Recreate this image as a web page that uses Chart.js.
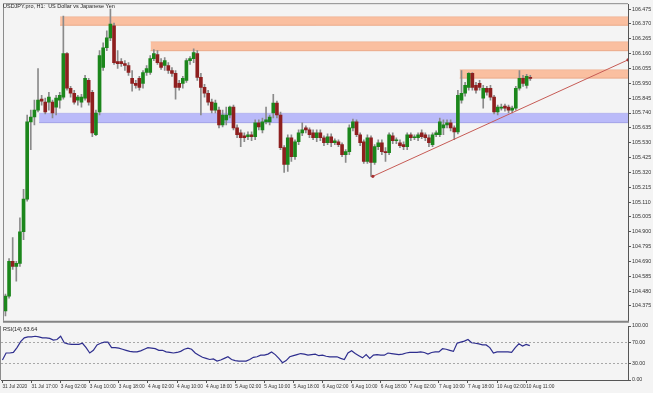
<!DOCTYPE html>
<html>
<head>
<meta charset="utf-8">
<script src="https://cdn.jsdelivr.net/npm/chart.js@4.4.1/dist/chart.umd.min.js"></script>
<style>
  body { margin: 0; background: #f4f4f4; width: 653px; height: 393px; overflow: hidden; position: relative; font-family: "Liberation Sans", Arial, sans-serif; }
  canvas { position: absolute; left: 0; }
  #priceChart { top: 0; }
  #rsiChart { top: 318px; }
  .lbl { position: absolute; font-size: 5.5px; line-height: 6px; color: #222; white-space: pre; }
</style>
</head>
<body>
<canvas id="priceChart" width="653" height="325"></canvas>
<canvas id="rsiChart" width="653" height="75"></canvas>
<div class="lbl" style="left:3px; top:3px;">USDJPY.pro, H1:  US Dollar vs Japanese Yen</div>
<div class="lbl" style="left:3px; top:326px;">RSI(14) 63.64</div>
<script>
// Bougies H1, 31 Jul 09:00 -> 10 Aug 11:00
const opens = [104.340,104.445,104.690,104.655,104.676,104.900,105.131,105.677,105.712,105.761,
  105.838,105.817,105.817,105.817,105.782,105.831,105.852,106.160,105.915,105.880,
  105.831,105.817,105.845,105.971,105.887,105.586,105.747,106.062,106.202,106.272,
  106.356,106.104,106.104,106.090,106.076,105.985,105.950,105.985,105.950,106.027,
  106.027,106.125,106.153,106.097,106.076,106.076,106.041,106.020,105.950,105.950,
  105.971,106.111,106.125,106.160,105.992,105.922,105.880,105.817,105.761,105.761,
  105.656,105.691,105.726,105.782,105.635,105.600,105.579,105.572,105.586,105.572,
  105.670,105.621,105.677,105.677,105.740,105.810,105.726,105.495,105.376,105.565,
  105.432,105.537,105.600,105.635,105.621,105.600,105.565,105.600,105.565,105.530,
  105.572,105.530,105.537,105.516,105.446,105.467,105.635,105.677,105.586,105.537,
  105.397,105.565,105.390,105.502,105.530,105.467,105.460,105.579,105.544,105.530,
  105.516,105.502,105.586,105.565,105.565,105.600,105.586,105.565,105.516,105.586,
  105.586,105.635,105.656,105.670,105.635,105.607,105.831,105.880,105.922,106.020,
  105.936,105.950,105.845,105.915,105.915,105.852,105.747,105.775,105.789,105.782,
  105.761,105.775,105.915,105.985,105.936,105.992];
const highs = [104.459,104.711,104.858,104.690,104.998,105.201,105.726,105.761,105.831,106.055,
  105.866,105.845,105.887,105.831,105.866,105.887,106.426,106.167,105.929,105.901,
  105.866,105.873,106.006,105.985,105.901,105.761,106.181,106.237,106.321,106.475,
  106.377,106.181,106.125,106.111,106.097,106.041,105.971,105.999,106.041,106.076,
  106.146,106.188,106.181,106.125,106.132,106.097,106.062,106.041,105.971,105.999,
  106.125,106.139,106.195,106.181,106.020,105.943,105.901,105.838,105.831,105.782,
  105.761,105.782,105.789,105.796,105.656,105.621,105.600,105.607,105.607,105.691,
  105.691,105.705,105.782,105.726,105.873,105.824,105.747,105.509,105.586,105.586,
  105.551,105.621,105.670,105.649,105.635,105.621,105.621,105.621,105.579,105.593,
  105.593,105.558,105.551,105.530,105.481,105.656,105.698,105.691,105.600,105.551,
  105.586,105.579,105.516,105.551,105.551,105.495,105.600,105.600,105.565,105.551,
  105.537,105.600,105.600,105.586,105.600,105.621,105.600,105.586,105.600,105.614,
  105.705,105.691,105.691,105.691,105.649,105.901,106.041,105.957,106.027,106.027,
  105.957,105.971,105.936,105.929,105.936,105.866,105.796,105.803,105.803,105.796,
  105.789,105.929,106.041,106.006,106.013,106.006];
const lows = [104.305,104.431,104.634,104.550,104.655,104.844,105.117,105.481,105.656,105.747,
  105.796,105.733,105.761,105.705,105.726,105.775,105.838,105.901,105.852,105.803,
  105.796,105.782,105.831,105.796,105.572,105.579,105.726,106.041,106.181,106.251,
  106.083,106.055,106.069,106.041,106.006,105.894,105.915,105.901,105.915,106.006,
  106.013,106.111,106.083,106.048,106.041,106.020,105.999,105.838,105.901,105.915,
  105.957,106.083,106.097,105.971,105.726,105.852,105.796,105.740,105.740,105.635,
  105.642,105.656,105.705,105.621,105.565,105.502,105.537,105.551,105.544,105.551,
  105.621,105.600,105.663,105.656,105.705,105.705,105.481,105.320,105.327,105.397,
  105.411,105.516,105.579,105.600,105.565,105.551,105.537,105.544,105.509,105.516,
  105.502,105.516,105.502,105.432,105.390,105.446,105.614,105.572,105.509,105.383,
  105.383,105.292,105.376,105.481,105.446,105.397,105.446,105.523,105.523,105.495,
  105.481,105.481,105.544,105.551,105.544,105.558,105.544,105.502,105.502,105.572,
  105.572,105.586,105.635,105.614,105.551,105.593,105.810,105.859,105.901,105.901,
  105.880,105.901,105.775,105.866,105.831,105.733,105.726,105.761,105.754,105.740,
  105.740,105.761,105.901,105.929,105.915,105.971];
const closes = [104.445,104.690,104.655,104.676,104.900,105.131,105.677,105.712,105.761,105.831,
  105.824,105.747,105.852,105.740,105.845,105.866,106.160,105.915,105.880,105.817,
  105.852,105.852,105.985,105.817,105.600,105.740,106.146,106.202,106.272,106.370,
  106.097,106.090,106.090,106.076,106.027,105.950,105.936,105.922,106.027,106.055,
  106.125,106.160,106.097,106.062,106.111,106.041,106.020,105.922,105.922,105.985,
  106.111,106.125,106.167,105.992,105.922,105.880,105.817,105.761,105.810,105.656,
  105.726,105.726,105.782,105.635,105.586,105.565,105.565,105.586,105.572,105.670,
  105.642,105.677,105.691,105.712,105.810,105.726,105.495,105.376,105.565,105.432,
  105.537,105.600,105.621,105.621,105.586,105.565,105.600,105.565,105.530,105.572,
  105.530,105.544,105.516,105.446,105.467,105.635,105.677,105.586,105.530,105.397,
  105.565,105.390,105.502,105.530,105.467,105.460,105.586,105.544,105.551,105.509,
  105.502,105.586,105.565,105.572,105.586,105.572,105.565,105.530,105.586,105.600,
  105.677,105.656,105.670,105.635,105.607,105.866,105.880,105.936,106.020,105.922,
  105.901,105.922,105.915,105.887,105.852,105.747,105.782,105.782,105.775,105.761,
  105.775,105.915,105.985,105.950,105.999,105.985];

// RSI(14)
const rsi = [37,50,50,51,60,71,78,80,80,81, 80,78,78,77,74,75,81,69,67,66,
  66,66,68,60,50,55,65,68,70,70, 60,60,59,57,55,53,52,52,54,57,
  60,59,58,55,55,52,51,50,51,53, 57,59,57,50,46,42,40,38,39,35,
  37,40,43,38,36,35,35,35,38,42, 43,46,46,48,52,47,40,32,36,43,
  45,47,49,48,46,47,48,45,46,44, 43,43,43,40,38,50,54,49,45,41,
  47,40,46,47,46,46,50,49,48,47, 48,50,51,51,51,52,51,48,51,52,
  52,58,57,55,53,68,70,72,75,69, 68,67,65,65,60,50,52,52,52,52,
  51,60,67,63,66,63.64];

// Axe du temps
const timeTickIdx = [0,8,16,24,32,40,48,56,64,72,80,88,96,104,112,120,128,136,144];
const timeTickLabels = ['31 Jul 2020','31 Jul 17:00','3 Aug 02:00','3 Aug 10:00','3 Aug 18:00',
  '4 Aug 02:00','4 Aug 10:00','4 Aug 18:00','5 Aug 02:00','5 Aug 10:00','5 Aug 18:00',
  '6 Aug 02:00','6 Aug 10:00','6 Aug 18:00','7 Aug 02:00','7 Aug 10:00','7 Aug 18:00',
  '10 Aug 02:00','10 Aug 11:00'];
const priceTicks = [104.375,104.480,104.585,104.690,104.795,104.900,105.005,105.110,105.215,
  105.320,105.425,105.530,105.635,105.740,105.845,105.950,106.055,106.160,106.265,106.370,106.475];
const rsiTicks = [0, 30, 70, 100];

// Zones (resistances / support) et ligne de tendance
const zoneFrom = [15.1, 40.1, 125.5, 9.3];
const zoneLow  = [106.361, 106.181, 105.987, 105.672];
const zoneHigh = [106.421, 106.244, 106.046, 105.738];
const trendX = [101.5, 172];
const trendY = [105.292, 106.116];

const X_MIN = -0.4, X_MAX = 172;
const font = { family: '"Liberation Sans", Arial, sans-serif', size: 5.3 };
const timeFont = { family: '"Liberation Sans Narrow", "Liberation Sans", Arial, sans-serif', size: 4.8 };

const frame = {
    id: 'frame',
    afterDraw(chart, args, opts) {
        const { ctx, chartArea: a } = chart;
        ctx.save();
        ctx.strokeStyle = '#8c8c8c';
        ctx.lineWidth = 1;
        ctx.beginPath();
        ctx.moveTo(a.left - 0.5, opts.top ? a.top - 1 : a.top);
        ctx.lineTo(a.left - 0.5, a.bottom);
        if (opts.top) {
            ctx.moveTo(a.left, a.top - 0.5);
            ctx.lineTo(a.right, a.top - 0.5);
        }
        ctx.stroke();
        if (opts.bottom) {
            ctx.lineWidth = 2;
            ctx.strokeStyle = '#858585';
            ctx.beginPath();
            ctx.moveTo(a.left - 1, a.bottom + 1);
            ctx.lineTo(a.right + 1, a.bottom + 1);
            ctx.stroke();
        }
        ctx.restore();
    }
};

const zoneFill = ['rgba(250,186,152,0.92)', 'rgba(250,186,152,0.92)', 'rgba(250,186,152,0.92)', 'rgba(180,180,250,0.9)'];
const zoneEdge = ['#eaa988', '#eaa988', '#eaa988', '#a3a3e8'];

const datasets = [];
zoneFrom.forEach(function(x0, k) {
    datasets.push({
        type: 'line', order: 10,
        data: [{ x: x0, y: zoneLow[k] }, { x: X_MAX, y: zoneLow[k] }],
        borderColor: zoneEdge[k], borderWidth: 1, pointRadius: 0, fill: false
    });
    datasets.push({
        type: 'line', order: 10,
        data: [{ x: x0, y: zoneHigh[k] }, { x: X_MAX, y: zoneHigh[k] }],
        borderColor: zoneEdge[k], borderWidth: 0.5, pointRadius: 0,
        fill: '-1', backgroundColor: zoneFill[k]
    });
});

datasets.push({
    type: 'bar', order: 3, grouped: false,
    data: lows.map((l, i) => ({ x: i, y: [l, highs[i]] })),
    backgroundColor: '#8a8a8a', barThickness: 1, minBarLength: 1
});
datasets.push({
    type: 'bar', order: 2, grouped: false,
    data: opens.map((o, i) => ({ x: i, y: [o, closes[i]] })),
    backgroundColor: opens.map((o, i) => closes[i] >= o ? '#1b861b' : '#8e1f1f'),
    borderWidth: 0, barThickness: 3, minBarLength: 1
});
datasets.push({
    type: 'line', order: 1,
    data: trendX.map((x, i) => ({ x: x, y: trendY[i] })),
    borderColor: '#c65b55', borderWidth: 1,
    pointRadius: 1.6, pointBackgroundColor: '#a83232', pointBorderWidth: 0
});

new Chart(document.getElementById('priceChart'), {
    type: 'bar',
    data: { datasets: datasets },
    options: {
        responsive: false, animation: false, devicePixelRatio: 1,
        layout: { padding: { left: 1, top: 3, right: 0, bottom: 2 } },
        plugins: { legend: { display: false }, tooltip: { enabled: false }, frame: { top: true, bottom: true } },
        scales: {
            x: { type: 'linear', min: X_MIN, max: X_MAX, display: false, offset: false, grid: { offset: false } },
            y: {
                position: 'right', min: 104.27, max: 106.51,
                afterBuildTicks: s => { s.ticks = priceTicks.map(v => ({ value: v })); },
                afterFit: s => { s.width = 25; },
                ticks: { font: font, color: '#333', padding: 1, callback: v => v.toFixed(3) },
                grid: { drawOnChartArea: false, drawTicks: true, tickLength: 3, tickColor: '#555' },
                border: { display: true, color: '#555', width: 1 }
            }
        }
    },
    plugins: [frame]
});

new Chart(document.getElementById('rsiChart'), {
    type: 'line',
    data: {
        datasets: [{
            data: rsi.map((v, i) => ({ x: i, y: v })),
            borderColor: '#2e2e8e', borderWidth: 1.2, pointRadius: 0, tension: 0
        }]
    },
    options: {
        responsive: false, animation: false, devicePixelRatio: 1,
        layout: { padding: { left: 1, top: 8, right: 0, bottom: 0 } },
        plugins: { legend: { display: false }, tooltip: { enabled: false }, frame: { top: false, bottom: false } },
        scales: {
            x: {
                type: 'linear', min: X_MIN, max: X_MAX,
                afterBuildTicks: s => { s.ticks = timeTickIdx.map(v => ({ value: v })); },
                afterFit: s => { s.height = 13; s.paddingLeft = 0; s.paddingRight = 0; },
                ticks: { font: timeFont, color: '#333', align: 'start', padding: 1, autoSkip: false, maxRotation: 0,
                         callback: (v, i) => timeTickLabels[i] },
                grid: { drawOnChartArea: false, drawTicks: true, tickLength: 3, tickColor: '#555' },
                border: { display: true, color: '#555', width: 1 }
            },
            y: {
                position: 'right', min: 0, max: 100,
                afterBuildTicks: s => { s.ticks = rsiTicks.map(v => ({ value: v })); },
                afterFit: s => { s.width = 25; },
                ticks: { font: font, color: '#333', padding: 1, callback: v => v.toFixed(2) },
                grid: {
                    drawTicks: true, tickLength: 3, tickColor: '#555',
                    color: c => (c.tick && (c.tick.value === 30 || c.tick.value === 70)) ? '#a8a8a8' : 'rgba(0,0,0,0)'
                },
                border: { display: true, color: '#555', width: 1, dash: [2, 2] }
            }
        }
    },
    plugins: [frame]
});
</script>
</body>
</html>
